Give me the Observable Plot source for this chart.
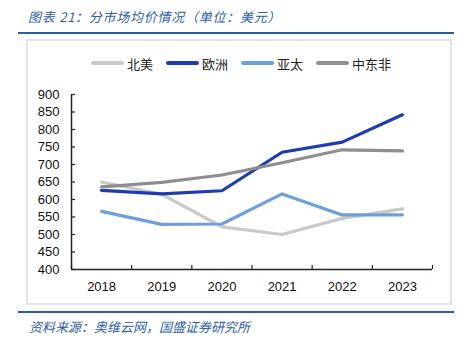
<!DOCTYPE html>
<html>
<head>
<meta charset="utf-8">
<script src="https://cdn.jsdelivr.net/npm/d3@7"></script>
<script src="https://cdn.jsdelivr.net/npm/@observablehq/plot@0.6"></script>
<style>
  html, body { margin: 0; padding: 0; background: #fff; }
  #wrap { position: relative; width: 473px; height: 347px; overflow: hidden; background: #fff; font-family: "Noto Sans CJK SC", sans-serif; }
  .abs { position: absolute; }
  #title { left: 28px; top: 8px; font-size: 13px; line-height: 18px; font-style: italic; color: #2f5ea8; white-space: nowrap; letter-spacing: 0.75px; }
  #caption { left: 29px; top: 318px; font-size: 13px; line-height: 18px; font-style: italic; color: #2f5ea8; white-space: nowrap; }
  .rule { left: 18px; width: 436px; height: 2px; background: #2b5ca8; }
  #box { left: 26px; top: 39px; width: 422px; height: 262px; border: 2px solid #e4e4e4; }
  .leg { top: 55px; height: 16px; display: flex; align-items: center; font-size: 13px; color: #222; white-space: nowrap; }
  .leg i { display: inline-block; width: 33px; height: 3.5px; border-radius: 2px; margin-right: 3px; }
  #chart { left: 0; top: 0; }
</style>
</head>
<body>
<div id="wrap">
  <div id="box" class="abs"></div>
  <div id="title" class="abs">图表 21：分市场均价情况（单位：美元）</div>
  <div class="abs rule" style="top:32px"></div>
  <div id="legend"></div>
  <div id="chart" class="abs"></div>
  <div class="abs rule" style="top:311px"></div>
  <div id="caption" class="abs">资料来源：奥维云网，国盛证券研究所</div>
</div>
<script>
const years = [2018, 2019, 2020, 2021, 2022, 2023];
const seriesNames = ["北美", "欧洲", "亚太", "中东非"];
const northAmerica = [650, 615, 522, 500, 546, 573];
const europe = [626, 616, 625, 735, 764, 842];
const asiaPacific = [566, 529, 530, 616, 556, 556];
const middleEastAfrica = [636, 649, 670, 705, 742, 739];
const yTicks = [400, 450, 500, 550, 600, 650, 700, 750, 800, 850, 900];
const colors = ["#c9c9c9", "#1d3caf", "#6d9fdd", "#8e8e8e"];

const seriesValues = [northAmerica, europe, asiaPacific, middleEastAfrica];
const data = [];
seriesNames.forEach((name, i) => {
  years.forEach((y, j) => data.push({series: name, year: y, value: seriesValues[i][j]}));
});
const boundaries = d3.range(years[0] - 0.5, years[years.length - 1] + 1, 1);

// legend (HTML, above the plot)
const legendX = [91, 166, 241, 316];
const legend = document.getElementById("legend");
seriesNames.forEach((name, i) => {
  const d = document.createElement("div");
  d.className = "abs leg";
  d.style.left = legendX[i] + "px";
  d.innerHTML = `<i style="background:${colors[i]}"></i><span>${name}</span>`;
  legend.appendChild(d);
});

const chart = Plot.plot({
  width: 473,
  height: 347,
  marginLeft: 71,
  marginRight: 41,
  marginTop: 94,
  marginBottom: 78,
  style: {fontFamily: "'Liberation Sans', Arial, sans-serif", fontSize: "13px", color: "#111", background: "transparent", overflow: "visible"},
  x: {type: "linear", domain: [boundaries[0], boundaries[boundaries.length - 1]]},
  y: {domain: [400, 900]},
  color: {domain: seriesNames, range: colors},
  marks: [
    Plot.axisY({ticks: yTicks, tickSize: 0, tickPadding: 12, label: null, fill: "#111", fontSize: 13}),
    Plot.axisX({ticks: years, tickSize: 0, tickPadding: 12, tickFormat: d => String(d), label: null, fill: "#111", fontSize: 13}),
    Plot.tickY(yTicks, {y: d => d, stroke: "#222", strokeWidth: 1.2, insetRight: 357}),
    Plot.tickX(boundaries, {x: d => d, stroke: "#222", strokeWidth: 1.2, insetTop: 171}),
    Plot.ruleX([boundaries[0]], {stroke: "#222", strokeWidth: 1.5}),
    Plot.ruleY([400], {stroke: "#222", strokeWidth: 1.5}),
    Plot.line(data, {x: "year", y: "value", z: "series", stroke: "series", strokeWidth: 3.2, curve: "linear"})
  ]
});
document.getElementById("chart").appendChild(chart);
</script>
</body>
</html>
